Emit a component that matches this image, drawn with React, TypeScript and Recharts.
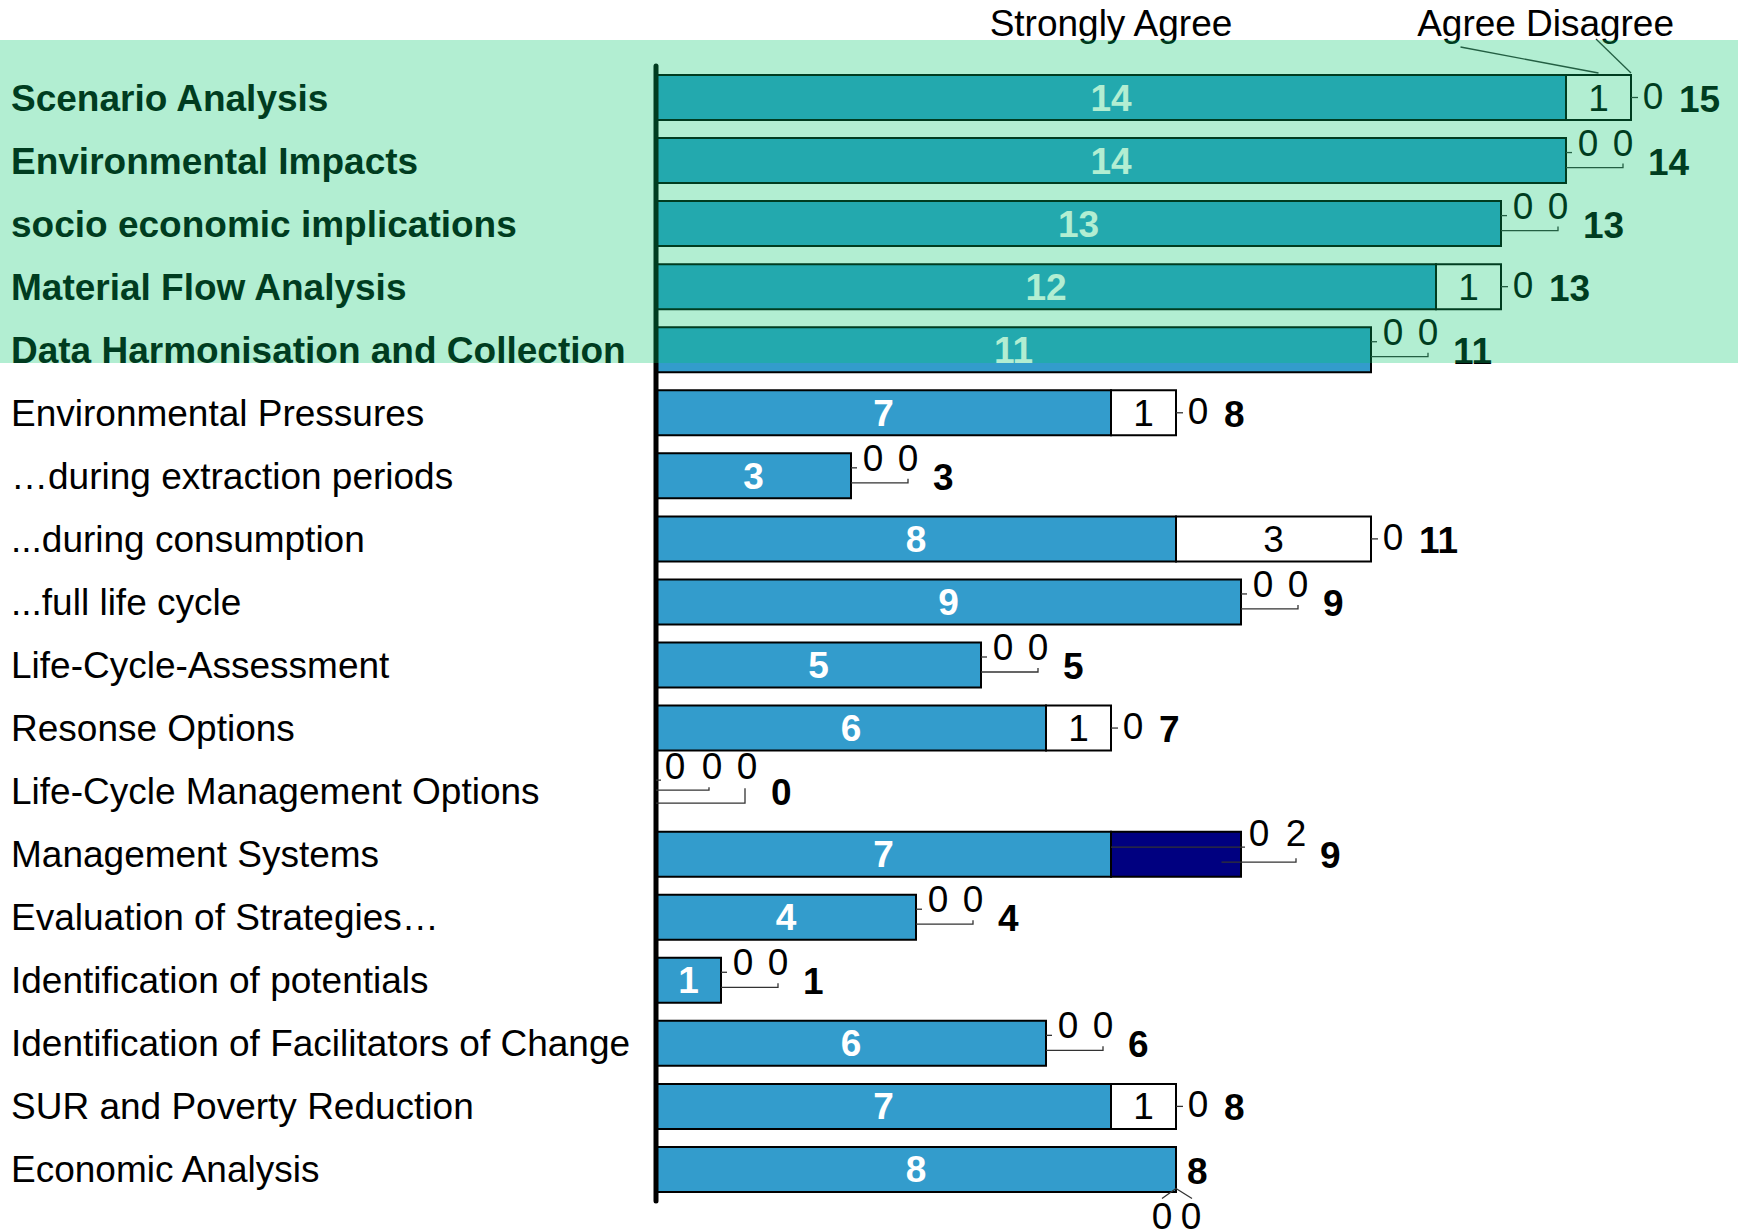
import { BarChart, Bar, XAxis, YAxis, LabelList } from 'recharts';

// survey rows, top to bottom
const categories = [
  'Scenario Analysis',
  'Environmental Impacts',
  'socio economic implications',
  'Material Flow Analysis',
  'Data Harmonisation and Collection',
  'Environmental Pressures',
  '…during extraction periods',
  '...during consumption',
  '...full life cycle',
  'Life-Cycle-Assessment',
  'Resonse Options',
  'Life-Cycle Management Options',
  'Management Systems',
  'Evaluation of Strategies…',
  'Identification of potentials',
  'Identification of Facilitators of Change',
  'SUR and Poverty Reduction',
  'Economic Analysis',
];
const stronglyAgree = [14, 14, 13, 12, 11, 7, 3, 8, 9, 5, 6, 0, 7, 4, 1, 6, 7, 8];
const agree = [1, 0, 0, 1, 0, 1, 0, 3, 0, 0, 1, 0, 0, 0, 0, 0, 1, 0];
const disagree = [0, 0, 0, 0, 0, 0, 0, 0, 0, 0, 0, 0, 2, 0, 0, 0, 0, 0];
const seriesNames = ['Strongly Agree', 'Agree', 'Disagree'];
const highlightedRows = 5;

const data = categories.map((name, i) => ({
  name,
  sa: stronglyAgree[i],
  ag: agree[i],
  di: disagree[i],
}));

const W = 1738;
const H = 1232;
const TOP = 66;
const BOTTOM = 31;
const AXIS_W = 656;
const BAND = (H - TOP - BOTTOM) / categories.length;

const FONT = '"Liberation Sans", Arial, Helvetica, sans-serif';
const FS = 37;
const lineStyle = { stroke: '#333', strokeWidth: 1.3, fill: 'none' };

// text placed by its visual centre line
function T({ x, cy, children, bold = false, anchor = 'middle', fill = '#000' }: any) {
  return (
    <text
      x={x}
      y={cy + 13}
      textAnchor={anchor}
      fontFamily={FONT}
      fontSize={FS}
      fontWeight={bold ? 700 : 400}
      fill={fill}
    >
      {children}
    </text>
  );
}

function readBox(props: any) {
  const vb = props.viewBox ?? props;
  const b = { x: Number(vb.x), y: Number(vb.y), width: Number(vb.width), height: Number(vb.height) };
  let row = categories.indexOf(props.value);
  if (row < 0) row = Math.round((b.y + b.height / 2 - TOP) / BAND - 0.5);
  return { ...b, row };
}

function lastSeries(i: number) {
  if (disagree[i] > 0) return 2;
  if (agree[i] > 0) return 1;
  if (stronglyAgree[i] > 0) return 0;
  return -1;
}

// zero labels, leader lines and the bold total after the end of a row
function endLabels(i: number, xa: number, xe: number, cy: number) {
  const sa = stronglyAgree[i];
  const ag = agree[i];
  const di = disagree[i];
  const total = sa + ag + di;
  const last = i === categories.length - 1;

  if (total === 0) {
    return (
      <g>
        <polyline points={`${xe},${cy - 11} ${xe + 5},${cy - 11}`} {...lineStyle} />
        <polyline points={`${xe},${cy - 1} ${xe + 53},${cy - 1} ${xe + 53},${cy - 4}`} {...lineStyle} />
        <polyline points={`${xe},${cy + 12} ${xe + 89},${cy + 12} ${xe + 89},${cy - 3}`} {...lineStyle} />
        <T x={xe + 19} cy={cy - 25}>{sa}</T>
        <T x={xe + 56} cy={cy - 25}>{ag}</T>
        <T x={xe + 91} cy={cy - 25}>{di}</T>
        <T x={xe + 115} cy={cy + 1} anchor="start" bold>{total}</T>
      </g>
    );
  }
  if (last && ag === 0 && di === 0) {
    return (
      <g>
        <polyline points={`${xe - 14},${cy + 29} ${xe},${cy + 19} ${xe + 16},${cy + 29}`} {...lineStyle} />
        <T x={xe - 14} cy={cy + 47}>{ag}</T>
        <T x={xe + 15} cy={cy + 47}>{di}</T>
        <T x={xe + 11} cy={cy + 2} anchor="start" bold>{total}</T>
      </g>
    );
  }
  if (ag > 0 && di === 0) {
    return (
      <g>
        <polyline points={`${xe},${cy} ${xe + 7},${cy}`} {...lineStyle} />
        <T x={xe + 22} cy={cy - 2}>{di}</T>
        <T x={xe + 48} cy={cy + 1} anchor="start" bold>{total}</T>
      </g>
    );
  }
  if (ag === 0 && di > 0) {
    return (
      <g>
        <polyline points={`${xa},${cy - 7} ${xe + 4},${cy - 7}`} {...lineStyle} />
        <polyline points={`${xa + (xe - xa) * 0.85},${cy + 8} ${xe + 55},${cy + 8} ${xe + 55},${cy + 4}`} {...lineStyle} />
        <T x={xe + 18} cy={cy - 21}>{ag}</T>
        <T x={xe + 55} cy={cy - 21}>{di}</T>
        <T x={xe + 79} cy={cy + 1} anchor="start" bold>{total}</T>
      </g>
    );
  }
  return (
    <g>
      <polyline points={`${xe},${cy - 8} ${xe + 6},${cy - 8}`} {...lineStyle} />
      <polyline points={`${xe},${cy + 7} ${xe + 57},${cy + 7} ${xe + 57},${cy + 3}`} {...lineStyle} />
      <T x={xe + 22} cy={cy - 18}>{ag}</T>
      <T x={xe + 57} cy={cy - 18}>{di}</T>
      <T x={xe + 82} cy={cy + 1} anchor="start" bold>{total}</T>
    </g>
  );
}

function RowTick(props: any) {
  const { y, payload } = props;
  const i = categories.indexOf(payload.value);
  return (
    <g>
      <T x={11} cy={y} anchor="start" bold={i < highlightedRows}>
        {payload.value}
      </T>
      {/* a row with no bar at all gets its labels from the axis position */}
      {lastSeries(i) < 0 && endLabels(i, AXIS_W, AXIS_W, y)}
    </g>
  );
}

function StrongLabel(props: any) {
  const { x, y, width, height, row } = readBox(props);
  const cy = y + height / 2;
  return (
    <g>
      {row === 0 && (
        <T x={x + width / 2} cy={23}>
          {seriesNames[0]}
        </T>
      )}
      <T x={x + width / 2} cy={cy} bold fill="#fff">
        {stronglyAgree[row]}
      </T>
      {lastSeries(row) === 0 && endLabels(row, x + width, x + width, cy)}
    </g>
  );
}

function AgreeLabel(props: any) {
  const { x, y, width, height, row } = readBox(props);
  const cy = y + height / 2;
  const xe = x + width;
  return (
    <g>
      {row === 0 && (
        <g>
          <T x={x + width / 2 - 132} cy={23}>
            {seriesNames[1]}
          </T>
          <line x1={x + width / 2 - 138} y1={47} x2={x + width / 2} y2={y - 2} {...lineStyle} />
          <T x={xe - 31} cy={23}>
            {seriesNames[2]}
          </T>
          <line x1={xe - 35} y1={39} x2={xe} y2={y - 2} {...lineStyle} />
        </g>
      )}
      <T x={x + width / 2} cy={cy}>
        {agree[row]}
      </T>
      {lastSeries(row) === 1 && endLabels(row, x, xe, cy)}
    </g>
  );
}

function DisagreeLabel(props: any) {
  const { x, y, width, height, row } = readBox(props);
  const cy = y + height / 2;
  return <g>{lastSeries(row) === 2 && endLabels(row, x, x + width, cy)}</g>;
}

const rowName = (entry: any) => entry?.payload?.name;

export default function App() {
  return (
    <div
      style={{
        position: 'absolute',
        left: 0,
        top: 0,
        width: W,
        height: H,
        background: '#fff',
        overflow: 'hidden',
      }}
    >
      <BarChart
        width={W}
        height={H}
        data={data}
        layout="vertical"
        barSize={45}
        margin={{ top: TOP, right: 42, bottom: BOTTOM, left: 0 }}
      >
        <XAxis type="number" domain={[0, 16]} hide />
        <YAxis
          type="category"
          dataKey="name"
          width={AXIS_W}
          interval={0}
          tickLine={false}
          axisLine={{ stroke: '#000', strokeWidth: 5, strokeLinecap: 'round' }}
          tick={<RowTick />}
        />
        <Bar dataKey="sa" stackId="s" fill="#339ccc" stroke="#000" strokeWidth={2} isAnimationActive={false}>
          <LabelList valueAccessor={rowName} content={<StrongLabel />} />
        </Bar>
        <Bar dataKey="ag" stackId="s" fill="#ffffff" stroke="#000" strokeWidth={2} isAnimationActive={false}>
          <LabelList valueAccessor={rowName} content={<AgreeLabel />} />
        </Bar>
        <Bar dataKey="di" stackId="s" fill="#000080" stroke="#000" strokeWidth={2} isAnimationActive={false}>
          <LabelList valueAccessor={rowName} content={<DisagreeLabel />} />
        </Bar>
      </BarChart>
      {/* highlight band over the first five rows */}
      <div
        style={{
          position: 'absolute',
          left: 0,
          top: 40,
          width: W,
          height: 323,
          background: 'rgba(0, 198, 107, 0.3)',
          pointerEvents: 'none',
        }}
      />
    </div>
  );
}
